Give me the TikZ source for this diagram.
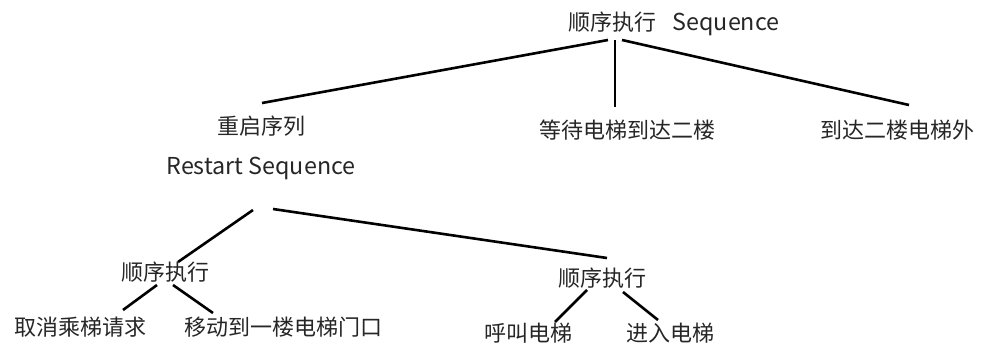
\documentclass[tikz,border=0pt]{standalone}
\usepackage{fontspec}
\setmainfont{Noto Sans CJK SC}
\newcommand{\lat}[1]{{\fontsize{23.3}{40}\selectfont #1}}
\begin{document}
\begin{tikzpicture}[x=1pt,y=-1pt,
  lbl/.style={inner sep=0pt,font=\fontsize{22}{40}\selectfont,text=black!85},
  edge/.style={line width=2.6pt,black}]
\useasboundingbox (0,0) rectangle (981,345);
% nodes
\node[lbl] (root) at (674,24) {顺序执行\hspace{16pt}\lat{Sequence}};
\node[lbl,align=center] (restart) at (261,148) {重启序列\\\lat{Restart Sequence}};
\node[lbl] (wait) at (627,130) {等待电梯到达二楼};
\node[lbl] (arrive) at (897,130) {到达二楼电梯外};
\node[lbl] (seqL) at (165,272) {顺序执行};
\node[lbl] (seqR) at (602,278) {顺序执行};
\node[lbl] (cancel) at (80,327) {取消乘梯请求};
\node[lbl] (move) at (283,327) {移动到一楼电梯门口};
\node[lbl] (call) at (528,333) {呼叫电梯};
\node[lbl] (enter) at (670,333) {进入电梯};
% attachment points
\coordinate (rootL) at (608,40);
\coordinate (rootM) at (615,40);
\coordinate (rootR) at (622,40);
\coordinate (restartTop) at (262,103);
\coordinate (waitTop) at (615,107);
\coordinate (arriveTop) at (909,105);
\coordinate (restartL) at (253,210);
\coordinate (restartR) at (273,209);
\coordinate (seqLTop) at (178,262);
\coordinate (seqRTop) at (607,258);
\coordinate (seqLL) at (157,285);
\coordinate (seqLR) at (173,285);
\coordinate (cancelTop) at (123,310);
\coordinate (moveTop) at (213,313);
\coordinate (seqRL) at (587,290);
\coordinate (seqRR) at (623,292);
\coordinate (callTop) at (555,322);
\coordinate (enterTop) at (658,320);
% edges
\draw[edge] (rootL) -- (restartTop);
\draw[edge] (rootM) -- (waitTop);
\draw[edge] (rootR) -- (arriveTop);
\draw[edge] (restartL) -- (seqLTop);
\draw[edge] (restartR) -- (seqRTop);
\draw[edge] (seqLL) -- (cancelTop);
\draw[edge] (seqLR) -- (moveTop);
\draw[edge] (seqRL) -- (callTop);
\draw[edge] (seqRR) -- (enterTop);
\end{tikzpicture}
\end{document}
